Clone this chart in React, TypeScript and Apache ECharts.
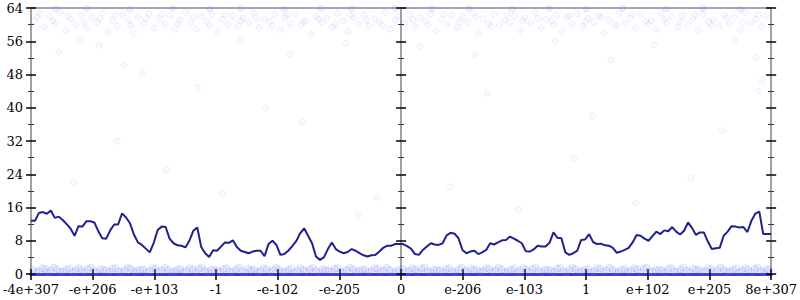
import React, { useEffect, useRef } from "react";
import * as echarts from "echarts";

const tickLabels = ["-4e+307", "-e+206", "-e+103", "-1", "-e-102", "-e-205", "0", "e-206", "e-103", "1", "e+102", "e+205", "8e+307"];

const lineValues = [
  12.8, 12.8, 14.7, 14.9, 14.5, 15.3, 13.5, 13.8, 13.0, 12.0,
  10.9, 9.2, 11.5, 11.4, 12.7, 12.7, 12.4, 10.3, 8.6, 8.5,
  10.5, 11.9, 11.9, 14.6, 13.6, 12.2, 9.5, 7.6, 7.0, 6.1,
  5.2, 7.5, 10.6, 11.4, 11.3, 8.5, 7.4, 6.9, 6.8, 6.4,
  8.0, 10.4, 11.2, 6.5, 5.0, 4.1, 5.7, 5.6, 6.6, 7.6,
  7.5, 8.1, 6.5, 5.6, 5.3, 5.0, 5.4, 5.6, 5.6, 4.3,
  7.2, 8.0, 7.0, 4.6, 4.8, 5.6, 6.7, 7.9, 9.8, 11.0,
  9.2, 7.4, 4.2, 3.4, 4.0, 6.0, 7.6, 6.0, 5.4, 5.0,
  5.3, 6.0, 5.6, 5.0, 4.5, 4.2, 4.5, 4.6, 5.4, 6.3,
  6.8, 6.8, 7.2, 7.2, 7.2, 6.7, 6.1, 4.8, 4.6, 5.8,
  6.6, 7.4, 7.1, 7.0, 7.4, 9.3, 9.9, 9.7, 8.6, 5.8,
  5.0, 5.4, 5.6, 4.8, 5.2, 5.8, 7.4, 7.1, 7.6, 8.1,
  8.2, 9.0, 8.5, 8.0, 7.4, 5.5, 5.4, 5.9, 6.8, 6.6,
  6.6, 7.5, 10.0, 8.7, 8.6, 5.2, 4.6, 5.0, 5.6, 8.2,
  8.3, 9.6, 7.7, 7.2, 7.3, 6.9, 6.8, 6.3, 5.1, 5.4,
  5.8, 6.3, 7.6, 9.4, 9.2, 8.5, 8.0, 9.1, 10.2, 9.6,
  10.5, 10.3, 11.3, 10.2, 9.5, 10.4, 12.4, 11.1, 9.4, 10.0,
  10.0, 7.8, 6.0, 6.2, 6.3, 9.2, 10.2, 11.5, 11.4, 11.2,
  11.3, 10.1, 12.8, 14.5, 15.0, 9.6, 9.6, 9.6,
];

const topPoints = [
  [-5.95, 60.8], [-5.86, 62.6], [-5.78, 59.4], [-5.7, 61.9], [-5.61, 60.2], [-5.52, 62.9], [-5.44, 58.6], [-5.36, 61.3],
  [-5.27, 60.0], [-5.18, 62.3], [-5.1, 59.1], [-5.02, 61.7], [-4.93, 60.6], [-4.85, 62.8], [-4.76, 58.2], [-4.68, 61.0],
  [-4.6, 59.7], [-4.51, 62.4], [-4.43, 60.9], [-4.34, 57.9], [-4.26, 61.8], [-4.17, 60.3], [-4.09, 62.7], [-4.0, 59.2],
  [-3.92, 61.5], [-3.83, 60.1], [-3.75, 62.2], [-3.66, 58.9], [-3.58, 61.1], [-3.49, 62.9], [-3.41, 60.4], [-3.32, 59.0],
  [-3.24, 61.9], [-3.15, 60.7], [-3.07, 62.5], [-2.98, 58.4], [-2.9, 61.3], [-2.81, 60.0], [-2.73, 62.1], [-2.64, 59.6],
  [-2.56, 61.6], [-2.47, 60.5], [-2.39, 62.8], [-2.3, 59.3], [-2.22, 61.2], [-2.13, 60.8], [-2.05, 62.4], [-1.96, 58.8],
  [-1.88, 61.7], [-1.79, 60.2], [-1.71, 62.6], [-1.62, 59.9], [-1.54, 61.0], [-1.45, 57.6], [-1.37, 62.0], [-1.28, 60.6],
  [-1.2, 61.5], [-1.11, 59.4], [-1.03, 62.7], [-0.94, 60.9], [-0.86, 58.3], [-0.77, 61.8], [-0.69, 60.1], [-0.6, 62.3],
  [-0.52, 59.7], [-0.43, 61.4], [-0.35, 60.6], [-0.26, 62.9], [-0.18, 58.9], [-0.09, 61.1], [0.06, 60.3], [0.14, 62.4],
  [0.23, 59.5], [0.31, 61.6], [0.4, 60.8], [0.48, 62.6], [0.57, 58.6], [0.65, 61.2], [0.74, 60.0], [0.82, 62.2],
  [0.91, 59.3], [0.99, 61.9], [1.08, 60.7], [1.16, 62.8], [1.25, 58.1], [1.33, 61.4], [1.42, 60.2], [1.5, 62.5],
  [1.59, 59.8], [1.67, 61.0], [1.76, 60.5], [1.84, 62.0], [1.93, 58.7], [2.01, 61.7], [2.1, 60.4], [2.18, 62.9],
  [2.27, 59.1], [2.35, 61.3], [2.44, 60.9], [2.52, 62.3], [2.61, 58.4], [2.69, 61.8], [2.78, 60.1], [2.86, 62.6],
  [2.95, 59.6], [3.03, 61.5], [3.12, 60.6], [3.2, 62.1], [3.29, 57.8], [3.37, 61.2], [3.46, 59.9], [3.54, 62.7],
  [3.63, 60.3], [3.71, 61.6], [3.8, 59.2], [3.88, 62.4], [3.97, 60.8], [4.05, 61.0], [4.14, 58.9], [4.22, 62.8],
  [4.31, 60.5], [4.39, 61.9], [4.48, 59.4], [4.56, 62.2], [4.65, 60.0], [4.73, 61.4], [4.82, 58.5], [4.9, 62.6],
  [4.99, 60.7], [5.07, 61.1], [5.16, 59.7], [5.24, 62.3], [5.33, 60.2], [5.41, 61.7], [5.5, 58.8], [5.58, 62.9],
  [5.67, 60.4], [5.75, 61.3], [5.84, 59.5], [5.92, 62.1],
  [-5.9, 61.9], [-5.65, 60.9], [-5.4, 62.1], [-5.14, 60.6], [-4.88, 61.4], [-4.63, 62.2], [-4.38, 59.9], [-4.13, 61.5],
  [-3.87, 62.5], [-3.62, 60.2], [-3.37, 61.8], [-3.11, 59.8], [-2.86, 62.3], [-2.6, 60.9], [-2.35, 61.6], [-2.09, 59.7],
  [-1.84, 62.4], [-1.58, 60.7], [-1.33, 61.3], [-1.07, 60.1], [-0.82, 62.2], [-0.56, 61.0], [-0.31, 59.9], [-0.05, 62.0],
  [0.19, 61.2], [0.44, 59.8], [0.7, 62.5], [0.95, 60.6], [1.21, 61.7], [1.46, 59.6], [1.72, 62.3], [1.97, 60.9],
  [2.22, 61.5], [2.48, 60.0], [2.73, 62.1], [2.99, 60.7], [3.24, 61.8], [3.5, 59.7], [3.75, 62.6], [4.01, 60.1],
  [4.26, 61.3], [4.52, 60.8], [4.77, 62.4], [5.03, 59.9], [5.28, 61.6], [5.54, 60.5], [5.79, 62.3],
];

const topEdgePoints = [
  [-5.6, 63.8], [-5.1, 63.9], [-4.4, 63.7], [-3.7, 63.9], [-3.1, 63.8], [-2.6, 63.9], [-1.9, 63.7], [-1.3, 63.9],
  [-0.8, 63.8], [-0.1, 63.9], [0.5, 63.8], [1.1, 63.9], [1.8, 63.7], [2.4, 63.9], [3.0, 63.8], [3.6, 63.9],
  [4.3, 63.8], [4.9, 63.9], [5.5, 63.7],
];

const sparsePoints = [
  [-5.55, 53.5], [-5.2, 56.2], [-4.9, 55.0], [-4.5, 50.2], [-4.2, 48.5], [-3.3, 44.8], [-2.6, 56.5], [-1.8, 53.0],
  [-0.9, 55.5], [0.3, 54.8], [1.2, 52.6], [2.5, 56.0], [3.4, 51.5], [4.1, 55.2], [5.4, 56.3], [5.75, 52.0],
  [5.85, 46.5], [5.8, 44.0], [-4.6, 32.0], [-3.8, 25.0], [-2.9, 19.5], [-1.6, 36.5], [-0.7, 14.0], [0.8, 21.0],
  [1.9, 15.5], [2.8, 28.0], [3.8, 17.0], [4.7, 23.0], [5.2, 34.5], [-5.3, 22.0], [-2.2, 40.0], [1.4, 43.5],
  [3.1, 38.0], [-0.4, 18.5],
];

const bottomPoints = [
  [-5.97, 1.0], [-5.87, 0.7], [-5.77, 1.2], [-5.68, 0.9], [-5.58, 1.1], [-5.48, 0.6], [-5.38, 1.3], [-5.28, 0.8],
  [-5.18, 1.0], [-5.08, 1.2], [-4.98, 0.7], [-4.88, 1.1], [-4.78, 0.9], [-4.68, 1.3], [-4.58, 0.6], [-4.48, 1.0],
  [-4.38, 1.2], [-4.28, 0.8], [-4.18, 1.1], [-4.08, 0.7], [-3.98, 1.3], [-3.88, 0.9], [-3.78, 1.0], [-3.68, 0.6],
  [-3.58, 1.2], [-3.48, 0.8], [-3.38, 1.1], [-3.28, 1.3], [-3.18, 0.7], [-3.08, 1.0], [-2.98, 0.9], [-2.88, 1.2],
  [-2.78, 0.6], [-2.68, 1.1], [-2.58, 0.8], [-2.48, 1.3], [-2.38, 1.0], [-2.28, 0.7], [-2.18, 1.2], [-2.08, 0.9],
  [-1.98, 1.1], [-1.88, 0.6], [-1.78, 1.3], [-1.68, 0.8], [-1.58, 1.0], [-1.48, 1.2], [-1.38, 0.7], [-1.28, 1.1],
  [-1.18, 0.9], [-1.08, 1.3], [-0.98, 0.6], [-0.88, 1.0], [-0.78, 1.2], [-0.68, 0.8], [-0.58, 1.1], [-0.48, 0.7],
  [-0.38, 1.3], [-0.28, 0.9], [-0.18, 1.0], [-0.08, 0.6], [0.03, 1.2], [0.13, 0.8], [0.23, 1.1], [0.33, 1.3],
  [0.43, 0.7], [0.53, 1.0], [0.63, 0.9], [0.73, 1.2], [0.83, 0.6], [0.93, 1.1], [1.03, 0.8], [1.13, 1.3],
  [1.23, 1.0], [1.33, 0.7], [1.43, 1.2], [1.53, 0.9], [1.63, 1.1], [1.73, 0.6], [1.83, 1.3], [1.93, 0.8],
  [2.03, 1.0], [2.13, 1.2], [2.23, 0.7], [2.33, 1.1], [2.43, 0.9], [2.53, 1.3], [2.63, 0.6], [2.73, 1.0],
  [2.83, 1.2], [2.93, 0.8], [3.03, 1.1], [3.13, 0.7], [3.23, 1.3], [3.33, 0.9], [3.43, 1.0], [3.53, 0.6],
  [3.63, 1.2], [3.73, 0.8], [3.83, 1.1], [3.93, 1.3], [4.03, 0.7], [4.13, 1.0], [4.23, 0.9], [4.33, 1.2],
  [4.43, 0.6], [4.53, 1.1], [4.63, 0.8], [4.73, 1.3], [4.83, 1.0], [4.93, 0.7], [5.03, 1.2], [5.13, 0.9],
  [5.23, 1.1], [5.33, 0.6], [5.43, 1.3], [5.53, 0.8], [5.63, 1.0], [5.73, 1.2], [5.83, 0.7], [5.93, 1.1],
  [-5.92, 0.5], [-5.82, 1.4], [-5.73, 0.4], [-5.63, 1.5], [-5.53, 0.5], [-5.43, 1.0], [-5.33, 0.4], [-5.23, 1.4],
  [-5.13, 0.5], [-5.03, 1.5], [-4.93, 0.4], [-4.83, 1.0], [-4.73, 0.5], [-4.63, 1.4], [-4.53, 0.4], [-4.43, 1.5],
  [-4.33, 0.5], [-4.23, 1.0], [-4.13, 0.4], [-4.03, 1.4], [-3.93, 0.5], [-3.83, 1.5], [-3.73, 0.4], [-3.63, 1.0],
  [-3.53, 0.5], [-3.43, 1.4], [-3.33, 0.4], [-3.23, 1.5], [-3.13, 0.5], [-3.03, 1.0], [-2.93, 0.4], [-2.83, 1.4],
  [-2.73, 0.5], [-2.63, 1.5], [-2.53, 0.4], [-2.43, 1.0], [-2.33, 0.5], [-2.23, 1.4], [-2.13, 0.4], [-2.03, 1.5],
  [-1.93, 0.5], [-1.83, 1.0], [-1.73, 0.4], [-1.63, 1.4], [-1.53, 0.5], [-1.43, 1.5], [-1.33, 0.4], [-1.23, 1.0],
  [-1.13, 0.5], [-1.03, 1.4], [-0.93, 0.4], [-0.83, 1.5], [-0.73, 0.5], [-0.63, 1.0], [-0.53, 0.4], [-0.43, 1.4],
  [-0.33, 0.5], [-0.23, 1.5], [-0.13, 0.4], [-0.03, 1.0], [0.08, 0.5], [0.18, 1.4], [0.28, 0.4], [0.38, 1.5],
  [0.48, 0.5], [0.58, 1.0], [0.68, 0.4], [0.78, 1.4], [0.88, 0.5], [0.98, 1.5], [1.08, 0.4], [1.18, 1.0],
  [1.28, 0.5], [1.38, 1.4], [1.48, 0.4], [1.58, 1.5], [1.68, 0.5], [1.78, 1.0], [1.88, 0.4], [1.98, 1.4],
  [2.08, 0.5], [2.18, 1.5], [2.28, 0.4], [2.38, 1.0], [2.48, 0.5], [2.58, 1.4], [2.68, 0.4], [2.78, 1.5],
  [2.88, 0.5], [2.98, 1.0], [3.08, 0.4], [3.18, 1.4], [3.28, 0.5], [3.38, 1.5], [3.48, 0.4], [3.58, 1.0],
  [3.68, 0.5], [3.78, 1.4], [3.88, 0.4], [3.98, 1.5], [4.08, 0.5], [4.18, 1.0], [4.28, 0.4], [4.38, 1.4],
  [4.48, 0.5], [4.58, 1.5], [4.68, 0.4], [4.78, 1.0], [4.88, 0.5], [4.98, 1.4], [5.08, 0.4], [5.18, 1.5],
  [5.28, 0.5], [5.38, 1.0], [5.48, 0.4], [5.58, 1.4], [5.68, 0.5], [5.78, 1.5], [5.88, 0.4], [5.97, 1.0],
];

const X_MIN = -6;
const X_MAX = 6;

export default function App() {
  const ref = useRef<HTMLDivElement>(null);

  useEffect(() => {
    if (!ref.current) return;
    const chart = echarts.init(ref.current, undefined, { renderer: "svg" });
    const font = "'DejaVu Serif', serif";
    const majorTick = { show: true, length: 5, lineStyle: { color: "#000", width: 1.5 } };
    const minorTick = { show: true, splitNumber: 2, length: 3, lineStyle: { color: "#333", width: 1 } };
    const yBase = {
      type: "value",
      min: 0,
      max: 64,
      interval: 8,
      splitLine: { show: false },
    };
    const n = lineValues.length;
    const lineData = lineValues.map((v, i) => [X_MIN + (i * (X_MAX - X_MIN)) / (n - 1), v]);
    const pointStyle = {
      color: "rgba(120,120,255,0.06)",
      borderColor: "rgba(120,120,255,0.14)",
      borderWidth: 1,
    };

    chart.setOption({
      animation: false,
      backgroundColor: "#fff",
      grid: { left: 28, right: 26, top: 8, bottom: 26, containLabel: false },
      xAxis: [
        {
          type: "value",
          min: X_MIN,
          max: X_MAX,
          interval: 1,
          position: "bottom",
          axisLine: { show: true, onZero: false, lineStyle: { color: "#3a3ad6", width: 3 } },
          axisTick: { show: true, length: 6, lineStyle: { color: "#000", width: 1.5 } },
          axisLabel: {
            show: true,
            margin: 9,
            color: "#000",
            fontFamily: font,
            fontSize: 13,
            formatter: (v: number) => tickLabels[Math.round(v - X_MIN)] ?? "",
          },
          splitLine: { show: false },
        },
        {
          type: "value",
          min: X_MIN,
          max: X_MAX,
          interval: 1,
          position: "bottom",
          axisLine: { show: false, onZero: false },
          axisTick: { show: true, inside: true, length: 5, lineStyle: { color: "#000", width: 1.5 } },
          axisLabel: { show: false },
          splitLine: { show: false },
        },
        {
          type: "value",
          min: X_MIN,
          max: X_MAX,
          position: "top",
          axisLine: { show: true, onZero: false, lineStyle: { color: "#a4a4b8", width: 2 } },
          axisTick: { show: false },
          axisLabel: { show: false },
          splitLine: { show: false },
        },
      ],
      yAxis: [
        {
          ...yBase,
          position: "left",
          axisLine: { show: true, onZero: false, lineStyle: { color: "#a0a0a0", width: 2 } },
          axisTick: majorTick,
          minorTick: minorTick,
          axisLabel: { show: true, margin: 8, color: "#000", fontFamily: font, fontSize: 13 },
        },
        {
          ...yBase,
          position: "left",
          axisLine: { show: false, onZero: false },
          axisTick: { ...majorTick, inside: true },
          minorTick: minorTick,
          axisLabel: { show: false },
        },
        {
          ...yBase,
          position: "right",
          axisLine: { show: true, onZero: false, lineStyle: { color: "#a0a0a0", width: 2 } },
          axisTick: majorTick,
          minorTick: minorTick,
          axisLabel: { show: false },
        },
        {
          ...yBase,
          position: "right",
          axisLine: { show: false, onZero: false },
          axisTick: { ...majorTick, inside: true },
          minorTick: minorTick,
          axisLabel: { show: false },
        },
        {
          ...yBase,
          position: "left",
          axisLine: { show: true, onZero: true, onZeroAxisIndex: 0, lineStyle: { color: "#a0a0a0", width: 2 } },
          axisTick: majorTick,
          minorTick: minorTick,
          axisLabel: { show: false },
        },
        {
          ...yBase,
          position: "left",
          axisLine: { show: false, onZero: true, onZeroAxisIndex: 0 },
          axisTick: { ...majorTick, inside: true },
          minorTick: minorTick,
          axisLabel: { show: false },
        },
      ],
      series: [
        {
          type: "scatter",
          name: "top",
          data: topPoints,
          symbol: "circle",
          symbolSize: 6,
          itemStyle: pointStyle,
          z: 1,
        },
        {
          type: "scatter",
          name: "topEdge",
          data: topEdgePoints,
          symbol: "circle",
          symbolSize: 6,
          itemStyle: { color: "rgba(120,120,255,0.12)", borderColor: "rgba(120,120,255,0.2)", borderWidth: 1 },
          z: 1,
        },
        {
          type: "scatter",
          name: "sparse",
          data: sparsePoints,
          symbol: "circle",
          symbolSize: 6,
          itemStyle: pointStyle,
          z: 1,
        },
        {
          type: "scatter",
          name: "bottom",
          data: bottomPoints,
          symbol: "circle",
          symbolSize: 7,
          itemStyle: {
            color: "rgba(110,110,255,0.14)",
            borderColor: "rgba(110,110,255,0.22)",
            borderWidth: 1,
          },
          z: 1,
        },
        {
          type: "line",
          name: "trend",
          data: lineData,
          symbol: "none",
          lineStyle: { color: "#20208f", width: 2 },
          z: 5,
        },
      ],
    });
    return () => chart.dispose();
  }, []);

  return <div ref={ref} style={{ position: "fixed", left: 0, top: 0, width: 800, height: 300 }} />;
}
